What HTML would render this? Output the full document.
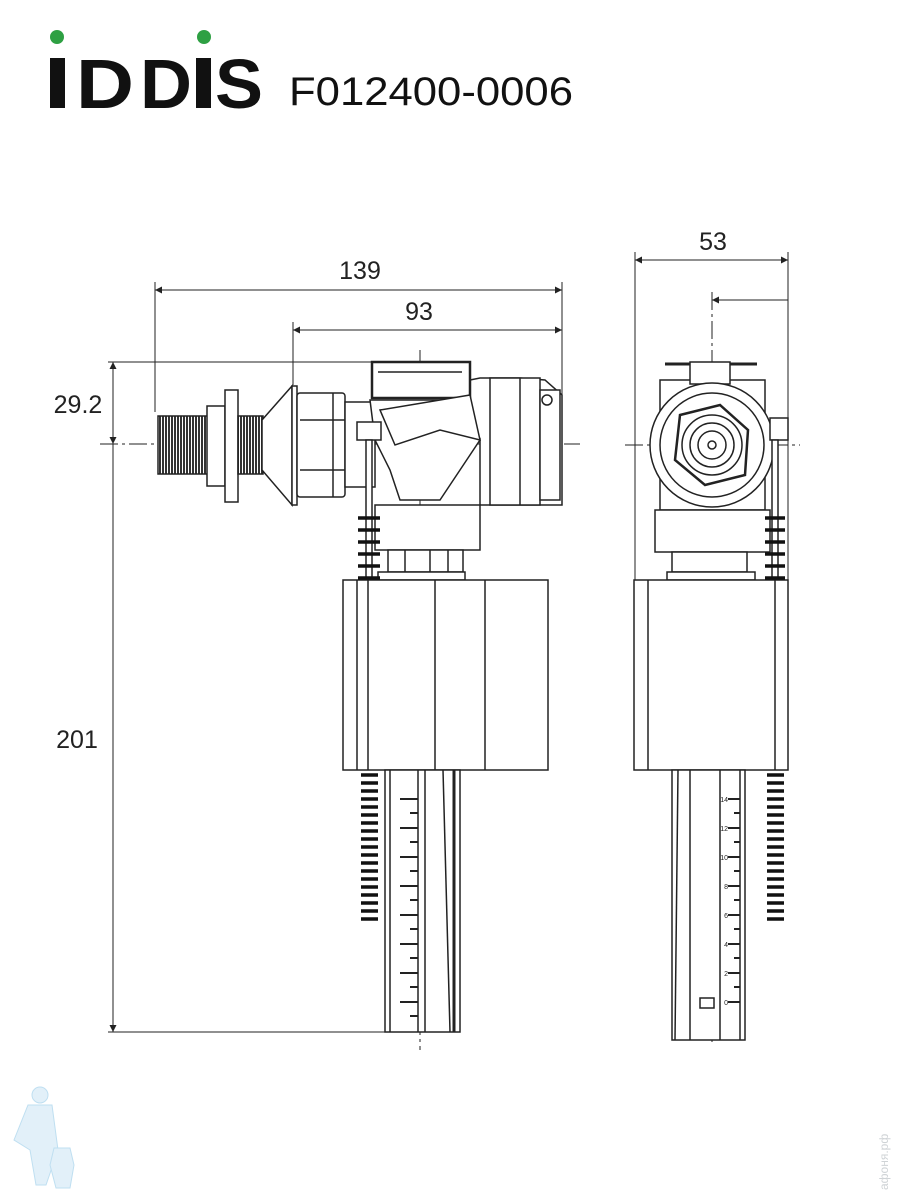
<!DOCTYPE html>
<html><head><meta charset="utf-8"><style>
html,body{margin:0;padding:0;background:#fff;width:900px;height:1200px;overflow:hidden}
svg{display:block}
text{font-family:"Liberation Sans",sans-serif}
</style></head><body>
<svg width="900" height="1200" viewBox="0 0 900 1200" xmlns="http://www.w3.org/2000/svg">
<defs>
<marker id="a" viewBox="0 0 10 10" refX="10" refY="5" markerWidth="9" markerHeight="7" orient="auto-start-reverse" markerUnits="userSpaceOnUse"><path d="M0,0 L10,5 L0,10 z" fill="#222"/></marker>
<pattern id="th" width="3" height="4" patternUnits="userSpaceOnUse"><rect width="3" height="4" fill="#fff"/><rect width="2" height="4" fill="#333"/></pattern>
</defs>
<!-- Header -->
<g fill="#111">
<rect x="50" y="58" width="15" height="50"/>
<text x="76" y="108" font-size="70" font-weight="bold" textLength="58" lengthAdjust="spacingAndGlyphs">D</text>
<text x="140" y="108" font-size="70" font-weight="bold" textLength="52" lengthAdjust="spacingAndGlyphs">D</text>
<rect x="196" y="58" width="15" height="50"/>
<text x="215" y="108" font-size="70" font-weight="bold" textLength="48" lengthAdjust="spacingAndGlyphs">S</text>
</g>
<circle cx="57" cy="37" r="7" fill="#2ea043"/>
<circle cx="204" cy="37" r="7" fill="#2ea043"/>
<text x="289" y="105" font-size="40" fill="#111" textLength="284" lengthAdjust="spacingAndGlyphs">F012400-0006</text>

<g stroke="#222" fill="none" stroke-width="1">
<line x1="155" y1="290" x2="562" y2="290" marker-start="url(#a)" marker-end="url(#a)"/>
<line x1="293" y1="330" x2="562" y2="330" marker-start="url(#a)" marker-end="url(#a)"/>
<line x1="155" y1="282" x2="155" y2="412"/>
<line x1="562" y1="282" x2="562" y2="440"/>
<line x1="293" y1="322" x2="293" y2="385"/>
<line x1="108" y1="362" x2="380" y2="362"/>
<line x1="113" y1="362" x2="113" y2="444" marker-start="url(#a)" marker-end="url(#a)"/>
<line x1="113" y1="444" x2="113" y2="1032" marker-end="url(#a)"/>
<line x1="108" y1="1032" x2="385" y2="1032"/>
<line x1="100" y1="444" x2="580" y2="444" stroke-dasharray="18 4 3 4"/>
<line x1="420" y1="350" x2="420" y2="1050" stroke-dasharray="18 4 3 4"/>
<line x1="635" y1="260" x2="788" y2="260" marker-start="url(#a)" marker-end="url(#a)"/>
<line x1="635" y1="252" x2="635" y2="580"/>
<line x1="788" y1="252" x2="788" y2="580"/>
<line x1="712" y1="300" x2="788" y2="300" marker-start="url(#a)"/>
<line x1="712" y1="292" x2="712" y2="1045" stroke-dasharray="18 4 3 4"/>
<line x1="625" y1="445" x2="800" y2="445" stroke-dasharray="18 4 3 4"/>
</g>
<g font-size="25" fill="#222" text-anchor="middle">
<text x="360" y="279">139</text>
<text x="419" y="320">93</text>
<text x="78" y="413">29.2</text>
<text x="77" y="748">201</text>
<text x="713" y="250">53</text>
</g>

<!-- LEFT VIEW -->
<g stroke="#222" stroke-width="1.5" fill="#fff">
<rect x="158" y="416" width="50" height="58" fill="url(#th)"/>
<rect x="207" y="406" width="18" height="80"/>
<rect x="225" y="390" width="13" height="112"/>
<rect x="238" y="416" width="25" height="58" fill="url(#th)"/>
<path d="M262,420 L292,386 L292,505 L262,470 z"/>
<rect x="292" y="386" width="5" height="119"/>
<rect x="297" y="393" width="48" height="104" rx="3"/>
<line x1="300" y1="420" x2="345" y2="420"/><line x1="300" y1="470" x2="345" y2="470"/>
<line x1="333" y1="393" x2="333" y2="497"/>
<rect x="345" y="402" width="30" height="85"/>
<path d="M370,400 L470,400 L470,380 L480,378 L520,378 L545,380 L562,395 L562,505 L480,505 L480,440 L460,470 L440,500 L400,500 L390,470 L375,440 z"/>
<path d="M372,362 L470,362 L470,398 L372,398 z" stroke-width="2.5"/>
<line x1="378" y1="372" x2="462" y2="372"/>
<path d="M380,410 L470,395 L480,440 L440,430 L395,445 z"/>
<rect x="490" y="378" width="50" height="127"/>
<line x1="520" y1="378" x2="520" y2="505"/>
<rect x="540" y="390" width="20" height="110"/>
<circle cx="547" cy="400" r="5"/>
<rect x="375" y="505" width="105" height="45"/>
<rect x="388" y="550" width="75" height="22"/>
<line x1="405" y1="550" x2="405" y2="572"/><line x1="430" y1="550" x2="430" y2="572"/><line x1="448" y1="550" x2="448" y2="572"/>
<rect x="378" y="572" width="87" height="8"/>
<rect x="357" y="422" width="24" height="18"/>
<rect x="366" y="440" width="6" height="140"/>
<rect x="343" y="580" width="205" height="190"/>
<line x1="357" y1="580" x2="357" y2="770"/><line x1="368" y1="580" x2="368" y2="770"/>
<line x1="435" y1="580" x2="435" y2="770"/><line x1="485" y1="580" x2="485" y2="770"/>
<rect x="385" y="770" width="75" height="262"/>
<line x1="390" y1="770" x2="390" y2="1032"/>
<line x1="418" y1="770" x2="418" y2="1032"/>
<line x1="425" y1="770" x2="425" y2="1032"/>
<line x1="443" y1="770" x2="450" y2="1032"/>
<line x1="454" y1="770" x2="454" y2="1032" stroke-width="3"/>
</g>
<g stroke="#222" stroke-width="2">
<path d="M400,799h18M410,813h8M400,828h18M410,842h8M400,857h18M410,871h8M400,886h18M410,900h8M400,915h18M410,929h8M400,944h18M410,958h8M400,973h18M410,987h8M400,1002h18M410,1016h8"/>
</g>
<g stroke="#111" stroke-width="3.5">
<path d="M358,518h22M358,530h22M358,542h22M358,554h22M358,566h22M358,578h22"/>
<path d="M361,775h17M361,783h17M361,791h17M361,799h17M361,807h17M361,815h17M361,823h17M361,831h17M361,839h17M361,847h17M361,855h17M361,863h17M361,871h17M361,879h17M361,887h17M361,895h17M361,903h17M361,911h17M361,919h17"/>
</g>

<!-- RIGHT VIEW -->
<g stroke="#222" stroke-width="1.5" fill="#fff">
<rect x="660" y="380" width="105" height="130"/>
<line x1="665" y1="364" x2="757" y2="364" stroke-width="3"/>
<rect x="690" y="362" width="40" height="22"/>
<circle cx="712" cy="445" r="62"/>
<circle cx="712" cy="445" r="52"/>
<path d="M680,415 L720,405 L748,430 L745,475 L705,485 L675,460 z" stroke-width="2.5"/>
<circle cx="712" cy="445" r="30"/><circle cx="712" cy="445" r="22"/><circle cx="712" cy="445" r="14"/>
<circle cx="712" cy="445" r="4"/>
<rect x="655" y="510" width="115" height="42"/>
<rect x="672" y="552" width="75" height="20"/>
<rect x="667" y="572" width="88" height="8"/>
<rect x="770" y="418" width="18" height="22"/>
<rect x="772" y="440" width="6" height="140"/>
<rect x="634" y="580" width="154" height="190"/>
<line x1="648" y1="580" x2="648" y2="770"/><line x1="775" y1="580" x2="775" y2="770"/>
<rect x="672" y="770" width="73" height="270"/>
<line x1="678" y1="770" x2="675" y2="1040"/>
<line x1="690" y1="770" x2="690" y2="1040"/>
<line x1="720" y1="770" x2="720" y2="1040"/>
<line x1="740" y1="770" x2="740" y2="1040"/>
<rect x="700" y="998" width="14" height="10"/>
</g>
<g stroke="#222" stroke-width="2"><path d="M728,799h12M734,813h6M728,828h12M734,842h6M728,857h12M734,871h6M728,886h12M734,900h6M728,915h12M734,929h6M728,944h12M734,958h6M728,973h12M734,987h6M728,1002h12"/></g>
<g font-size="7" fill="#222" text-anchor="end"><text x="728" y="802">14</text><text x="728" y="831">12</text><text x="728" y="860">10</text><text x="728" y="889">8</text><text x="728" y="918">6</text><text x="728" y="947">4</text><text x="728" y="976">2</text><text x="728" y="1005">0</text></g>
<g stroke="#111" stroke-width="3.5">
<path d="M765,518h20M765,530h20M765,542h20M765,554h20M765,566h20M765,578h20"/>
<path d="M767,775h17M767,783h17M767,791h17M767,799h17M767,807h17M767,815h17M767,823h17M767,831h17M767,839h17M767,847h17M767,855h17M767,863h17M767,871h17M767,879h17M767,887h17M767,895h17M767,903h17M767,911h17M767,919h17"/>
</g>

<g fill="#e2f0f9" stroke="#bfdff1">
<circle cx="40" cy="1095" r="8"/>
<path d="M28,1105 L52,1105 L58,1150 L46,1185 L36,1185 L30,1150 L14,1140 z"/>
<path d="M54,1148 L70,1148 L74,1165 L70,1188 L56,1188 L50,1165 z"/>
</g>
<text transform="translate(888,1190) rotate(-90)" font-size="12" fill="#cfd3d6">афоня.рф</text>
</svg>
</body></html>
